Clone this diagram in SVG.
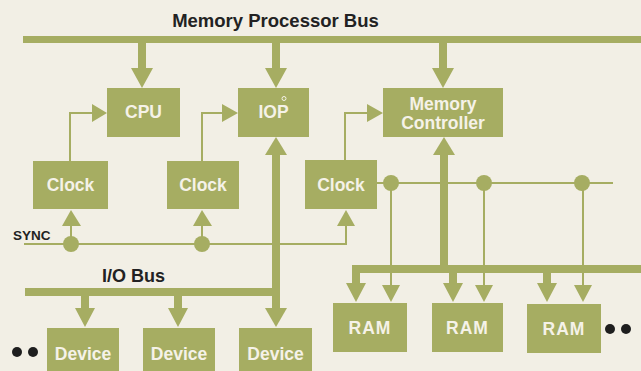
<svg xmlns="http://www.w3.org/2000/svg" width="641" height="371" viewBox="0 0 641 371">
<defs>
<style>
.box{fill:#a6ad62}
.bus{fill:#a6ad62}
.thin{stroke:#a6ad62;stroke-width:2;fill:none}
.stem{stroke:#a6ad62;stroke-width:8;fill:none}
.head{fill:#a6ad62}
.dot{fill:#a6ad62}
.lbl{font-family:"Liberation Sans",Arial,sans-serif;font-weight:bold;font-size:17.5px;fill:#f5f2e8;text-anchor:middle}
.ttl{font-family:"Liberation Sans",Arial,sans-serif;font-weight:bold;fill:#222;}
.blk{fill:#1e1e1e}
</style>
</defs>
<rect width="641" height="371" fill="#f2efe5"/>

<g id="connectors">
  <rect class="bus" x="23" y="36" width="618" height="7"/>
  <path class="stem" d="M142 43V70M276 43V70M443 43V70"/>
  <path class="head" d="M131 68H153L142 88ZM265 68H287L276 88ZM432 68H454L443 88Z"/>
  <path class="stem" d="M276 153V310"/>
  <path class="head" d="M265 155H287L276 137Z"/>
  <path class="head" d="M265 308H287L276 327Z"/>
  <rect class="bus" x="25" y="288" width="255" height="8"/>
  <path class="stem" d="M85 296V310M178 296V310"/>
  <path class="head" d="M75 308H95L85 327ZM168 308H188L178 327Z"/>
  <path class="stem" d="M444 153V269"/>
  <path class="head" d="M433 155H455L444 137Z"/>
  <rect class="bus" x="352" y="265" width="289" height="8"/>
  <path class="stem" d="M356 269V285M453 269V285M547 269V285"/>
  <path class="head" d="M346 283H366L356 302ZM443 283H463L453 302ZM537 283H557L547 302Z"/>
  <path class="thin" d="M70 161V113H93M202 161V113H223M345 161V113H368"/>
  <path class="head" d="M92 104L107 113L92 122ZM222 104L238 113L222 122ZM367 104L383 113L367 122Z"/>
  <path class="thin" d="M24 244H346V225M71 244V224M202 244V224"/>
  <path class="head" d="M62 226H81L71 210ZM193 226H212L202 210ZM337 226H355L346 210Z"/>
  <circle class="dot" cx="71" cy="244" r="8"/>
  <circle class="dot" cx="202" cy="244" r="8"/>
  <path class="thin" d="M377 183H613M391 183V285M484 183V285M583 183V285"/>
  <path class="head" d="M382 285H400L391 302ZM475 285H493L484 302ZM574 285H592L583 302Z"/>
  <circle class="dot" cx="391" cy="183" r="8"/>
  <circle class="dot" cx="484" cy="183" r="8"/>
  <circle class="dot" cx="582" cy="183" r="8"/>
</g>

<g id="cpu"><rect class="box" x="107" y="88" width="73" height="49"/><text class="lbl" x="143.5" y="118" font-size="18">CPU</text></g>
<g id="iop"><rect class="box" x="238" y="88" width="71" height="49"/><text class="lbl" x="273.5" y="118" font-size="18">IOP</text><circle cx="284" cy="98.5" r="2" fill="none" stroke="#f5f2e8" stroke-width="1"/></g>
<g id="memctl"><rect class="box" x="383" y="88" width="120" height="49"/><text class="lbl" x="443" y="110">Memory</text><text class="lbl" x="443" y="129">Controller</text></g>
<g id="clock1"><rect class="box" x="33" y="161" width="75" height="48"/><text class="lbl" x="70.5" y="191">Clock</text></g>
<g id="clock2"><rect class="box" x="167" y="161" width="72" height="48"/><text class="lbl" x="203" y="191">Clock</text></g>
<g id="clock3"><rect class="box" x="305" y="160" width="72" height="49"/><text class="lbl" x="341" y="191">Clock</text></g>
<g id="ram1"><rect class="box" x="333" y="303" width="74" height="49"/><text class="lbl" x="370" y="334" font-size="16" letter-spacing="1">RAM</text></g>
<g id="ram2"><rect class="box" x="432" y="303" width="71" height="49"/><text class="lbl" x="467.5" y="334" font-size="16" letter-spacing="1">RAM</text></g>
<g id="ram3"><rect class="box" x="527" y="304" width="74" height="49"/><text class="lbl" x="564" y="335" font-size="16" letter-spacing="1">RAM</text></g>
<g id="dev1"><rect class="box" x="47" y="328" width="72" height="50"/><text class="lbl" x="83" y="360">Device</text></g>
<g id="dev2"><rect class="box" x="143" y="328" width="72" height="50"/><text class="lbl" x="179" y="360">Device</text></g>
<g id="dev3"><rect class="box" x="239" y="328" width="73" height="50"/><text class="lbl" x="275.5" y="360">Device</text></g>

<g id="labels">
  <text class="ttl" x="275.5" y="27" font-size="18.5" text-anchor="middle">Memory Processor Bus</text>
  <text class="ttl" x="13" y="240" font-size="13.5">SYNC</text>
  <text class="ttl" x="102" y="282" font-size="18">I/O Bus</text>
  <circle class="blk" cx="17" cy="352" r="5"/><circle class="blk" cx="33" cy="352" r="5"/>
  <circle class="blk" cx="610" cy="329" r="5"/><circle class="blk" cx="626" cy="329" r="5"/>
</g>
</svg>
